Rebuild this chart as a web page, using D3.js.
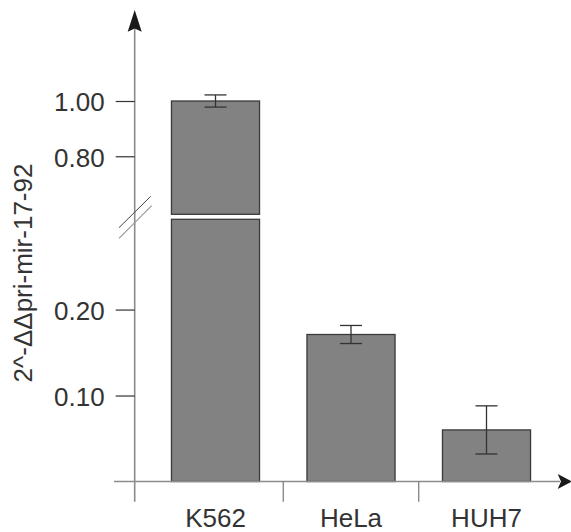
<!DOCTYPE html>
<html>
<head>
<meta charset="utf-8">
<script src="https://cdn.jsdelivr.net/npm/d3@7"></script>
<style>
  body { margin: 0; background: #fff; }
  svg { display: block; font-family: "Liberation Sans", Arial, sans-serif; }
</style>
</head>
<body>
<svg width="571" height="532"></svg>
<script>
var categories = ["K562", "HeLa", "HUH7"];
var values = [1.00, 0.171, 0.060];
var errors = [0.022, 0.0105, 0.028];
var topTicks = [0.80, 1.00];
var bottomTicks = [0.10, 0.20];
var yLabel = "2^-\u0394\u0394pri-mir-17-92";

var svg = d3.select("svg");

var axisX = 134.7, baseY = 481.5;
var breakLow = 0.305, breakHigh = 0.59;

var x = d3.scaleBand()
    .domain(categories)
    .range([147.75, 554.25])
    .paddingInner(0.35)
    .paddingOuter(0.175);

var yBot = d3.scaleLinear().domain([0, breakLow]).range([baseY, 219.3]);
var yTop = d3.scaleLinear().domain([breakHigh, 1.0]).range([214.3, 101]);

// bars, split at the break when needed
var bars = svg.append("g");
categories.forEach(function(c, i) {
    var v = values[i];
    var lowTop = Math.min(v, breakLow);
    bars.append("rect")
        .attr("x", x(c))
        .attr("y", yBot(lowTop))
        .attr("width", x.bandwidth())
        .attr("height", yBot(0) - yBot(lowTop))
        .attr("fill", "#828282")
        .attr("stroke", "#3a3a3a")
        .attr("stroke-width", 1.3);
    if (v > breakLow) {
        bars.append("rect")
            .attr("x", x(c))
            .attr("y", yTop(v))
            .attr("width", x.bandwidth())
            .attr("height", yTop(breakHigh) - yTop(v))
            .attr("fill", "#828282")
            .attr("stroke", "#3a3a3a")
            .attr("stroke-width", 1.3);
    }
});

function yOf(v) { return v > breakLow ? yTop(v) : yBot(v); }

// error bars
var err = svg.append("g").attr("stroke", "#333").attr("stroke-width", 1.3);
categories.forEach(function(c, i) {
    var cx = x(c) + x.bandwidth() / 2;
    var hi = yOf(values[i] + errors[i]), lo = yOf(values[i] - errors[i]);
    err.append("line").attr("x1", cx).attr("x2", cx).attr("y1", hi).attr("y2", lo);
    err.append("line").attr("x1", cx - 11).attr("x2", cx + 11).attr("y1", hi).attr("y2", hi);
    err.append("line").attr("x1", cx - 11).attr("x2", cx + 11).attr("y1", lo).attr("y2", lo);
});

// y axis line and arrow
svg.append("line")
    .attr("x1", axisX).attr("x2", axisX)
    .attr("y1", 501.7).attr("y2", 26)
    .attr("stroke", "#8c8c8c").attr("stroke-width", 1.6);
svg.append("path")
    .attr("d", "M" + axisX + ",10 L" + (axisX + 7) + ",31.7 L" + axisX + ",28.5 L" + (axisX - 7) + ",31.7 Z")
    .attr("fill", "#1a1a1a");

// x axis line and arrow
svg.append("line")
    .attr("x1", 114).attr("x2", 560)
    .attr("y1", baseY).attr("y2", baseY)
    .attr("stroke", "#8c8c8c").attr("stroke-width", 1.6);
svg.append("path")
    .attr("d", "M572," + baseY + " L557.7," + (baseY - 7.5) + " L561," + baseY + " L557.7," + (baseY + 7.5) + " Z")
    .attr("fill", "#1a1a1a");

// separators between categories
svg.append("g").selectAll("line")
    .data(categories.slice(1))
    .enter().append("line")
    .attr("x1", function(d) { return x(d) - x.step() * x.paddingInner() / 2; })
    .attr("x2", function(d) { return x(d) - x.step() * x.paddingInner() / 2; })
    .attr("y1", baseY).attr("y2", 501.7)
    .attr("stroke", "#777").attr("stroke-width", 1.2);

// y ticks
function styleAxis(g) {
    g.select(".domain").remove();
    g.selectAll(".tick line").attr("stroke", "#333").attr("stroke-width", 1.2);
    g.selectAll(".tick text")
        .attr("fill", "#333")
        .attr("font-size", 26)
        .attr("dy", "0.38em")
        .attr("font-family", "Liberation Sans, Arial, sans-serif");
}
svg.append("g")
    .attr("transform", "translate(" + axisX + ",0)")
    .call(d3.axisLeft(yTop).tickValues(topTicks).tickFormat(d3.format(".2f")).tickSize(19).tickPadding(11))
    .call(styleAxis);
svg.append("g")
    .attr("transform", "translate(" + axisX + ",0)")
    .call(d3.axisLeft(yBot).tickValues(bottomTicks).tickFormat(d3.format(".2f")).tickSize(19).tickPadding(11))
    .call(styleAxis);

// x labels
svg.append("g")
    .attr("transform", "translate(0," + baseY + ")")
    .call(d3.axisBottom(x).tickSize(0).tickPadding(27))
    .call(function(g) {
        g.select(".domain").remove();
        g.selectAll(".tick text")
            .attr("fill", "#333")
            .attr("font-size", 26)
            .attr("font-family", "Liberation Sans, Arial, sans-serif");
    });

// break marks
svg.append("line").attr("x1", 119).attr("y1", 227.7).attr("x2", 150.7).attr("y2", 196.3)
    .attr("stroke", "#444").attr("stroke-width", 1);
svg.append("line").attr("x1", 119).attr("y1", 238.3).attr("x2", 151.7).attr("y2", 205.7)
    .attr("stroke", "#999").attr("stroke-width", 1.2);

// y label
svg.append("text")
    .attr("transform", "translate(32,273) rotate(-90)")
    .attr("text-anchor", "middle")
    .attr("font-size", 26)
    .attr("fill", "#333")
    .text(yLabel);
</script>
</body>
</html>
